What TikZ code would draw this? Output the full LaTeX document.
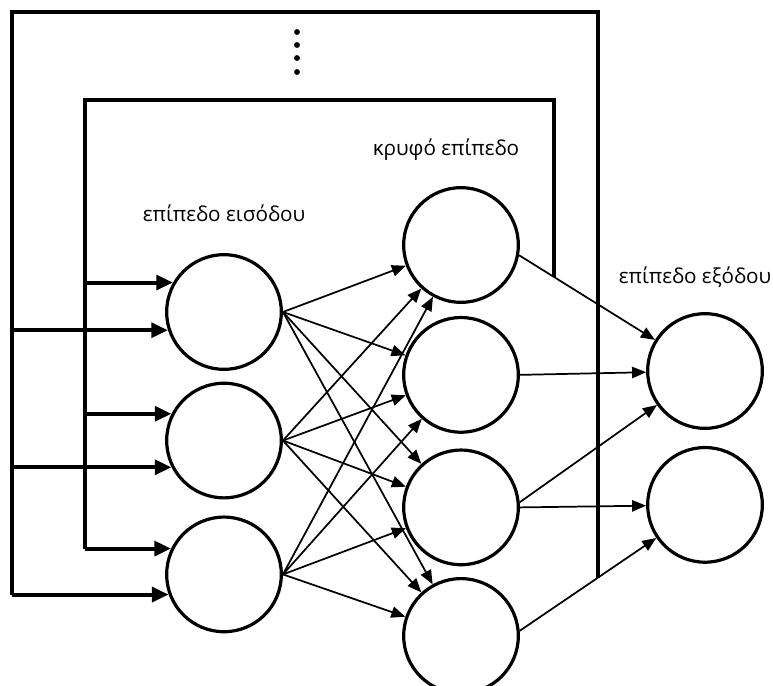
\documentclass[tikz,border=0pt]{standalone}
\usepackage{fontspec}
\setmainfont{Open Sans}
\usetikzlibrary{arrows.meta,positioning,calc}

\tikzset{
  neuron/.style={circle,draw=black,line width=2.4pt,minimum size=86pt,inner sep=0pt},
  layerlabel/.style={font=\fontsize{15.5}{18}\selectfont,inner sep=1pt},
  link/.style={-{Triangle[length=10.5pt,width=8.5pt]},line width=1.3pt},
  fbline/.style={line width=3pt},
  fbarrow/.style={-{Triangle[length=12.5pt,width=11pt]},line width=3pt}
}

\begin{document}
\begin{tikzpicture}[x=0.75pt,y=-0.75pt,node distance=9pt and 0pt]

  \useasboundingbox (0,0) rectangle (773,685);

  % input layer
  \node[neuron] (i1) at (224,312) {};
  \node[neuron, below=8pt of i1] (i2) {};
  \node[neuron, below=12pt of i2] (i3) {};

  % hidden layer
  \node[neuron] (h1) at (461,245) {};
  \node[neuron, below=9pt of h1] (h2) {};
  \node[neuron, below=11pt of h2] (h3) {};
  \node[neuron, below=8pt of h3] (h4) {};

  % output layer
  \node[neuron] (o1) at (705,371) {};
  \node[neuron, below=12pt of o1] (o2) {};

  % layer titles
  \node[layerlabel] (lin)  at (224,213) {επίπεδο εισόδου};
  \node[layerlabel] (lhid) at (446,150) {κρυφό επίπεδο};
  \node[layerlabel] (lout) at (695,277) {επίπεδο εξόδου};

  % input -> hidden, fully connected
  \foreach \i in {1,2,3}
    \foreach \h in {1,2,3,4}
      \draw[link] (i\i.east) -- (h\h);

  % hidden -> output
  \draw[link] (h1.-10) -- (o1);
  \draw[link] (h2.east) -- (o1);
  \draw[link] (h3.5) -- (o1);
  \draw[link] (h3.east) -- (o2);
  \draw[link] (h4.5) -- (o2);

  % feedback taps on the hidden->output links
  \coordinate (t1) at ($(h1.-10)!0.186!(o1)$);
  \coordinate (t2) at ($(h4.5)!0.42!(o2)$);
  \coordinate (inl) at (85,100);
  \coordinate (outl) at (12,12);

  % inner feedback loop
  \draw[fbline] (t1) |- (inl) -- (inl |- i3.154);
  \foreach \n/\a in {1/150,2/153,3/154}
    \draw[fbarrow] (inl |- i\n.\a) -- (i\n.\a);

  % outer feedback loop
  \draw[fbline] (t2) |- (outl) -- (outl |- i3.200);
  \foreach \n/\b in {1/198,2/207,3/200}
    \draw[fbarrow] (outl |- i\n.\b) -- (i\n.\b);

  % more loops in between
  \foreach \y in {32,45,58,72}
    \fill (297,\y) circle (2.2pt);

\end{tikzpicture}
\end{document}
